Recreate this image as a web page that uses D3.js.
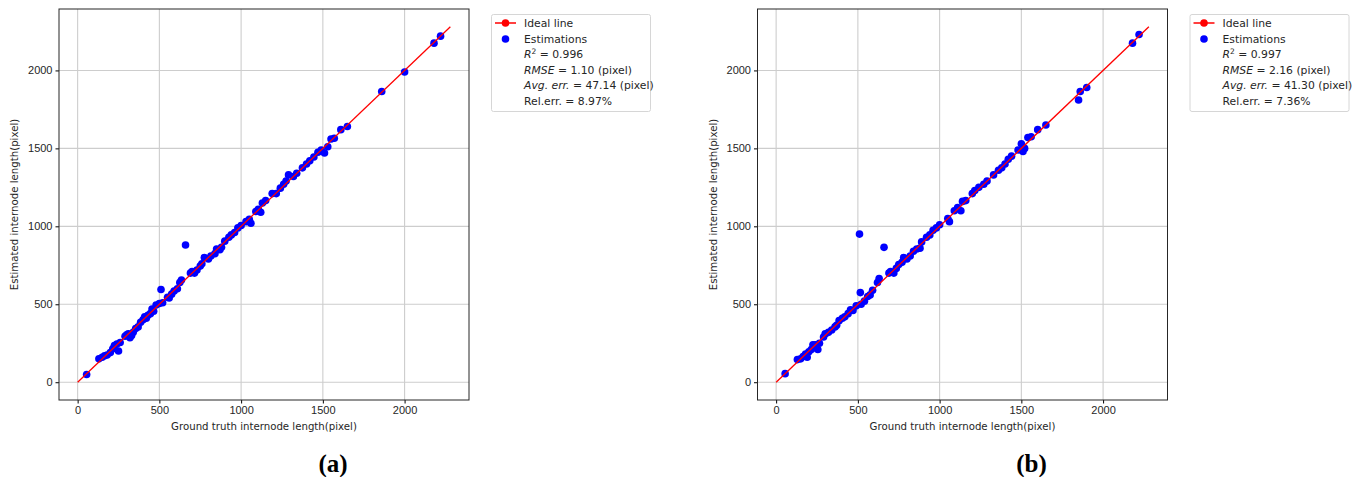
<!DOCTYPE html>
<html lang="en">
<head>
  <meta charset="UTF-8">
  <title>Internode length estimation</title>
  <script src="https://d3js.org/d3.v7.min.js"></script>
  <style>
    body {
      margin: 0;
      background-color: #ffffff;
      font-family: "DejaVu Sans", sans-serif;
    }
    svg text { fill: #262626; }
  </style>
</head>
<body>
  <div id="chart"></div>

  <script>
    // ground truth vs estimated internode length (pixel), panel (a)
    const gtA = [55, 130, 150, 165, 180, 200, 215, 225, 240, 250, 260, 290, 300, 310, 320, 330, 340, 355, 370, 385,
      400, 410, 420, 430, 445, 455, 465, 480, 500, 510, 520, 550, 560, 575, 590, 610, 625, 635, 660, 690,
      700, 715, 730, 750, 760, 775, 800, 815, 840, 850, 870, 880, 900, 925, 940, 960, 980, 1000, 1030, 1050,
      1060, 1090, 1105, 1120, 1130, 1150, 1190, 1215, 1240, 1260, 1275, 1290, 1320, 1340, 1375, 1400, 1420, 1445, 1470, 1490,
      1510, 1530, 1550, 1570, 1610, 1650, 1860, 2000, 2180, 2220];
    const estA = [50, 150, 160, 170, 175, 190, 215, 235, 245, 200, 255, 295, 305, 310, 285, 300, 320, 345, 355, 385,
      400, 420, 410, 430, 440, 470, 455, 495, 505, 595, 510, 545, 540, 565, 585, 600, 640, 655, 880, 700,
      710, 700, 720, 745, 760, 800, 790, 810, 825, 855, 850, 865, 905, 930, 945, 960, 990, 1005, 1030, 1045,
      1020, 1095, 1110, 1090, 1150, 1165, 1210, 1210, 1245, 1270, 1290, 1330, 1320, 1340, 1375, 1400, 1420, 1445, 1475, 1490,
      1470, 1510, 1560, 1565, 1620, 1640, 1865, 1990, 2175, 2220];

    // panel (b)
    const gtB = [55, 130, 150, 165, 180, 190, 200, 215, 225, 240, 255, 265, 290, 300, 320, 340, 360, 370, 385, 405,
      420, 440, 455, 470, 490, 510, 515, 520, 540, 560, 575, 590, 620, 630, 660, 690, 700, 720, 735, 750,
      770, 780, 800, 820, 840, 860, 880, 890, 920, 940, 960, 980, 1000, 1050, 1060, 1090, 1110, 1130, 1140, 1160,
      1200, 1215, 1240, 1270, 1290, 1330, 1360, 1380, 1400, 1420, 1440, 1480, 1500, 1510, 1520, 1540, 1560, 1600, 1650, 1850,
      1860, 1900, 2180, 2220];
    const estB = [55, 145, 150, 165, 180, 160, 195, 210, 240, 240, 210, 250, 290, 310, 320, 335, 355, 365, 395, 410,
      420, 440, 465, 460, 490, 950, 575, 500, 520, 550, 560, 590, 640, 665, 865, 700, 710, 700, 730, 755,
      770, 800, 790, 810, 840, 855, 860, 900, 930, 945, 975, 990, 1010, 1050, 1030, 1100, 1120, 1100, 1160, 1165,
      1210, 1230, 1250, 1270, 1290, 1330, 1360, 1375, 1400, 1430, 1450, 1490, 1530, 1480, 1500, 1570, 1575, 1620, 1650, 1810,
      1865, 1890, 2175, 2230];

    const ticks = [0, 500, 1000, 1500, 2000];
    const idealLine = [0, 2280];
    const statsA = ["0.996", "1.10", "47.14", "8.97%"];
    const statsB = ["0.997", "2.16", "41.30", "7.36%"];

    const W = 1357, H = 477;
    const svg = d3.select('#chart').append('svg')
      .attr('width', W).attr('height', H)
      .attr('font-family', '"DejaVu Sans", sans-serif');

    function drawPanel(left, gt, est, stats, label) {
      const top = 9, width = 410, height = 391;
      const x = d3.scaleLinear().domain([-114, 2394]).range([left, left + width]);
      const y = d3.scaleLinear().domain([-114, 2394]).range([top + height, top]);
      const g = svg.append('g');

      // grid
      g.selectAll('.gx').data(ticks).enter().append('line')
        .attr('x1', d => x(d)).attr('x2', d => x(d))
        .attr('y1', top).attr('y2', top + height)
        .attr('stroke', '#cdcdcd').attr('stroke-width', 1.1);
      g.selectAll('.gy').data(ticks).enter().append('line')
        .attr('y1', d => y(d)).attr('y2', d => y(d))
        .attr('x1', left).attr('x2', left + width)
        .attr('stroke', '#cdcdcd').attr('stroke-width', 1.1);

      // axes
      const fmt = d3.format('d');
      const xAxis = d3.axisBottom(x).tickValues(ticks).tickFormat(fmt).tickSize(3.5).tickPadding(3);
      const yAxis = d3.axisLeft(y).tickValues(ticks).tickFormat(fmt).tickSize(3.5).tickPadding(3);
      g.append('g').attr('transform', `translate(0,${top + height})`).call(xAxis)
        .call(a => a.select('.domain').remove())
        .selectAll('text').attr('font-size', 11).attr('fill', '#262626');
      g.append('g').attr('transform', `translate(${left},0)`).call(yAxis)
        .call(a => a.select('.domain').remove())
        .selectAll('text').attr('font-size', 11).attr('fill', '#262626');

      // points
      g.selectAll('circle.pt').data(gt).enter().append('circle')
        .attr('class', 'pt')
        .attr('cx', d => x(d)).attr('cy', (d, i) => y(est[i]))
        .attr('r', 3.8).attr('fill', '#0000ff');

      // ideal line, drawn over the points
      g.append('line')
        .attr('x1', x(idealLine[0])).attr('y1', y(idealLine[0]))
        .attr('x2', x(idealLine[1])).attr('y2', y(idealLine[1]))
        .attr('stroke', '#ff0000').attr('stroke-width', 1.3);

      // frame
      g.append('rect').attr('x', left).attr('y', top).attr('width', width).attr('height', height)
        .attr('fill', 'none').attr('stroke', '#262626').attr('stroke-width', 1);

      // axis labels
      g.append('text').attr('x', left + width / 2).attr('y', top + height + 30)
        .attr('text-anchor', 'middle').attr('font-size', 10.2)
        .text('Ground truth internode length(pixel)');
      g.append('text')
        .attr('transform', `translate(${left - 41},${top + height / 2}) rotate(-90)`)
        .attr('text-anchor', 'middle').attr('font-size', 10.2)
        .text('Estimated internode length(pixel)');

      // legend
      const lx = left + width + 22, ly = 14;
      const lg = g.append('g');
      lg.append('rect').attr('x', lx + 0.5).attr('y', ly + 0.5).attr('width', 159).attr('height', 97)
        .attr('rx', 2).attr('fill', '#ffffff').attr('stroke', '#d6d6d6');
      lg.append('line').attr('x1', lx + 4).attr('x2', lx + 25).attr('y1', ly + 9).attr('y2', ly + 9)
        .attr('stroke', '#ff0000').attr('stroke-width', 1.5);
      lg.append('circle').attr('cx', lx + 14.5).attr('cy', ly + 9).attr('r', 3.8).attr('fill', '#ff0000');
      lg.append('circle').attr('cx', lx + 14.5).attr('cy', ly + 25).attr('r', 3.8).attr('fill', '#0000ff');
      const tx = lx + 33, fs = 10.8;
      const rows = lg.append('g').attr('font-size', fs);
      rows.append('text').attr('x', tx).attr('y', ly + 13).text('Ideal line');
      rows.append('text').attr('x', tx).attr('y', ly + 28.5).text('Estimations');
      const r2 = rows.append('text').attr('x', tx).attr('y', ly + 44);
      r2.append('tspan').attr('font-style', 'italic').text('R');
      r2.append('tspan').attr('font-size', 7.5).attr('dy', -4.5).text('2');
      r2.append('tspan').attr('dy', 4.5).text(' = ' + stats[0]);
      const rm = rows.append('text').attr('x', tx).attr('y', ly + 59.5);
      rm.append('tspan').attr('font-style', 'italic').text('RMSE');
      rm.append('tspan').text(' = ' + stats[1] + ' (pixel)');
      const av = rows.append('text').attr('x', tx).attr('y', ly + 75);
      av.append('tspan').attr('font-style', 'italic').text('Avg. err.');
      av.append('tspan').text(' = ' + stats[2] + ' (pixel)');
      rows.append('text').attr('x', tx).attr('y', ly + 90.5).text('Rel.err. = ' + stats[3]);

      // sub-figure label
      const lab = svg.append('text').attr('x', left + width / 2 + 69).attr('y', 472)
        .attr('text-anchor', 'middle').attr('font-family', '"Liberation Serif", serif')
        .attr('font-size', 25).attr('font-weight', 'bold').style('fill', '#000000');
      lab.append('tspan').text('(');
      lab.append('tspan').text(label);
      lab.append('tspan').text(')');
    }

    drawPanel(59, gtA, estA, statsA, 'a');
    drawPanel(757.5, gtB, estB, statsB, 'b');
  </script>
</body>
</html>
